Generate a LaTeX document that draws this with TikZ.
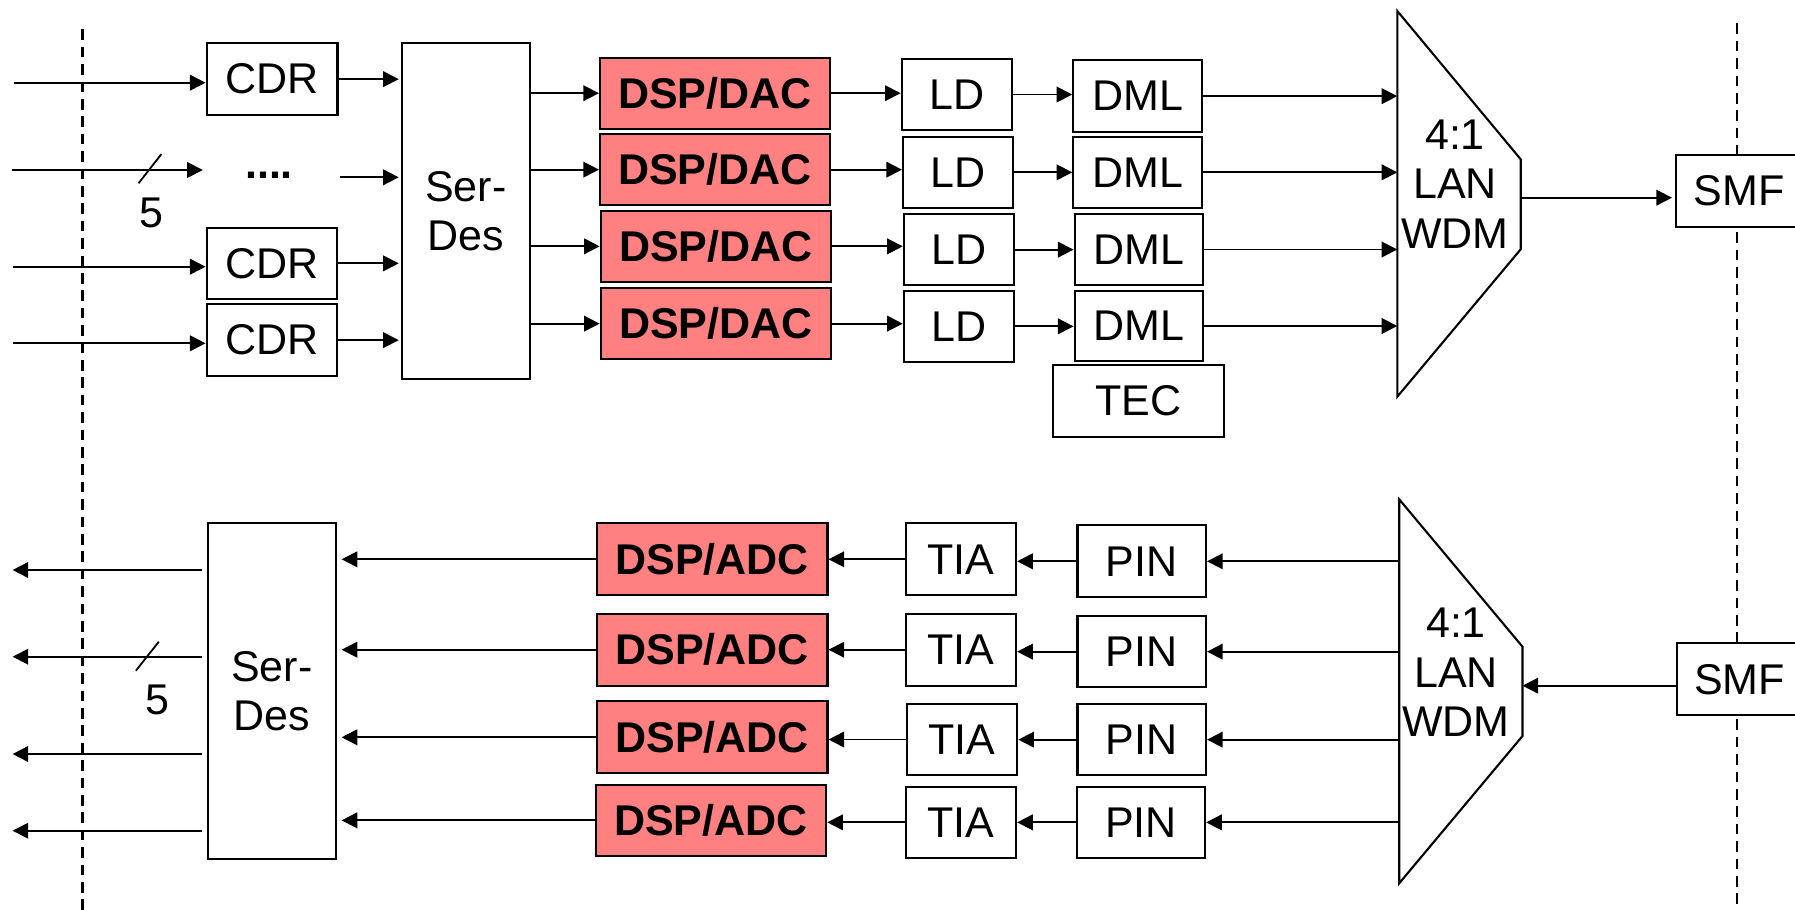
\documentclass[tikz,border=0pt]{standalone}
\usepackage{fontspec}
\setmainfont{Liberation Sans}
\usetikzlibrary{arrows.meta,fit}
\definecolor{dspred}{RGB}{255,128,128}
\begin{document}
\begin{tikzpicture}[x=0.5pt,y=-0.5pt,
  txt/.style={font=\fontsize{21.5pt}{24.7pt}\selectfont,align=center},
  btxt/.style={font=\fontsize{21.5pt}{24.7pt}\selectfont\bfseries},
  blk/.style={draw,line width=1.05pt,fill=white,inner sep=0pt},
  dsp/.style={blk,fill=dspred},
  arr/.style={line width=0.9pt,-{Triangle[length=7.8pt,width=7.8pt]}},
  bound/.style={line width=1.2pt,dash pattern=on 5.3pt off 3.4pt},
  mux/.style={line width=1.05pt,fill=white}]
\useasboundingbox (0,0) rectangle (1795,910);
% boundaries
\draw[bound] (82.3,29.3) -- (82.3,910);
\draw[bound] (1737,23.3) -- (1737,910);

% ---------------- transmitter ----------------
\node[blk,fit={(206.6,43.3)(337.5,115)},label={[txt]center:CDR}] (cdr1) {};
\node[blk,fit={(206.6,227.7)(336.8,299)},label={[txt]center:CDR}] (cdr2) {};
\node[blk,fit={(206.6,304.3)(336.8,376)},label={[txt]center:CDR}] (cdr3) {};
\node[blk,fit={(401.8,43.3)(530,379.3)},label={[txt]center:Ser-\\Des}] (serdes1) {};

\node[dsp,fit={(600,57.7)(830,128.7)},label={[btxt]center:DSP/DAC}] (dac1) {};
\node[dsp,fit={(600,134)(830,205.3)},label={[btxt]center:DSP/DAC}] (dac2) {};
\node[dsp,fit={(600.7,210.7)(831.2,282)},label={[btxt]center:DSP/DAC}] (dac3) {};
\node[dsp,fit={(600.7,288)(831.2,359.3)},label={[btxt]center:DSP/DAC}] (dac4) {};

\node[blk,fit={(901.7,59)(1012.4,130)},label={[txt]center:LD}] (ld1) {};
\node[blk,fit={(903,136.7)(1013.2,208)},label={[txt]center:LD}] (ld2) {};
\node[blk,fit={(903.8,214)(1014,285.3)},label={[txt]center:LD}] (ld3) {};
\node[blk,fit={(903.8,290.7)(1014,362)},label={[txt]center:LD}] (ld4) {};

\node[blk,fit={(1073.3,60.3)(1202.2,132)},label={[txt]center:DML}] (dml1) {};
\node[blk,fit={(1073.3,136.7)(1202.2,208)},label={[txt]center:DML}] (dml2) {};
\node[blk,fit={(1074.6,213.7)(1203,285.3)},label={[txt]center:DML}] (dml3) {};
\node[blk,fit={(1074.6,290.7)(1203,361.3)},label={[txt]center:DML}] (dml4) {};
\node[blk,fit={(1052.6,365.3)(1224.2,436.7)},label={[txt]center:TEC}] (tec) {};

\coordinate (w1a) at (1397.3,11);
\coordinate (w1b) at (1520.7,159.3);
\coordinate (w1c) at (1520.7,249.3);
\coordinate (w1d) at (1397.3,396.7);
\draw[mux] (w1a) -- (w1b) -- (w1c) -- (w1d) -- cycle;
\node[txt] (wdm1) at (1455,184) {4:1\\LAN\\WDM};
\coordinate (w1out) at (1520.7,197.7);

\node[blk,fit={(1676,155)(1802,226.7)}] (smf1) {};
\node[txt] (smf1t) at (1739,190.8) {SMF};

% inputs
\coordinate (i1) at (14,82.7);
\coordinate (i2) at (12.2,170);
\coordinate (e2) at (202.8,170);
\coordinate (i3) at (13,266.7);
\coordinate (i4) at (13,343.3);
\draw[arr] (i1) -- (i1 -| cdr1.west);
\draw[arr] (i2) -- (e2);
\draw[arr] (i3) -- (i3 -| cdr2.west);
\draw[arr] (i4) -- (i4 -| cdr3.west);
\draw[line width=0.9pt] (138.5,183.3) -- (161.5,154);
\node[txt] (five1) at (151,213.3) {5};
\node[btxt,anchor=base,inner sep=0pt] (dots) at (269,178.7) {....};
\coordinate (d2) at (339.8,177.3);

\draw[arr,shorten >=1pt] (cdr1.east) -- (cdr1.east -| serdes1.west);
\draw[arr,shorten >=1pt] (d2) -- (d2 -| serdes1.west);
\draw[arr,shorten >=1pt] (cdr2.east) -- (cdr2.east -| serdes1.west);
\draw[arr,shorten >=1pt] (cdr3.east) -- (cdr3.east -| serdes1.west);

\foreach \k in {1,2,3,4}{
  \draw[arr] (serdes1.east |- dac\k.west) -- (dac\k.west);
  \draw[arr] (dac\k.east) -- (dac\k.east -| ld\k.west);
  \draw[arr] (ld\k.east) -- (ld\k.east -| dml\k.west);
  \draw[arr] (dml\k.east) -- (dml\k.east -| w1a);
}
\draw[arr,shorten >=1.5pt] (w1out) -- (w1out -| smf1.west);

% ---------------- receiver ----------------
\node[blk,fit={(207.8,523.3)(336,859.3)},label={[txt]center:Ser-\\Des}] (serdes2) {};

\node[dsp,fit={(596.6,523.3)(827.5,595.3)},label={[btxt]center:DSP/ADC}] (adc1) {};
\node[dsp,fit={(596.6,613.7)(827.5,685.7)},label={[btxt]center:DSP/ADC}] (adc2) {};
\node[dsp,fit={(596.6,701.3)(827.5,773.3)},label={[btxt]center:DSP/ADC}] (adc3) {};
\node[dsp,fit={(595.8,784.7)(826.2,856)},label={[btxt]center:DSP/ADC}] (adc4) {};

\node[blk,fit={(905.8,523.3)(1016.1,595.3)},label={[txt]center:TIA}] (tia1) {};
\node[blk,fit={(905.8,613.7)(1016.1,685.7)},label={[txt]center:TIA}] (tia2) {};
\node[blk,fit={(906.7,703.7)(1017.3,775.3)},label={[txt]center:TIA}] (tia3) {};
\node[blk,fit={(905.8,786.7)(1016.1,858)},label={[txt]center:TIA}] (tia4) {};

\node[blk,fit={(1077.5,525.3)(1206,597.3)},label={[txt]center:PIN}] (pin1) {};
\node[blk,fit={(1077.5,616)(1206,687.3)},label={[txt]center:PIN}] (pin2) {};
\node[blk,fit={(1077.5,704)(1206,775.3)},label={[txt]center:PIN}] (pin3) {};
\node[blk,fit={(1076.7,786.7)(1205.1,858)},label={[txt]center:PIN}] (pin4) {};

\coordinate (w2a) at (1399.2,499.3);
\coordinate (w2b) at (1522.5,646.7);
\coordinate (w2c) at (1522.5,736);
\coordinate (w2d) at (1399.2,883.3);
\draw[mux] (w2a) -- (w2b) -- (w2c) -- (w2d) -- cycle;
\node[txt] (wdm2) at (1456,672.5) {4:1\\LAN\\WDM};
\coordinate (w2in) at (1522.5,685.7);

\node[blk,fit={(1677.4,643.3)(1802,715)}] (smf2) {};
\node[txt] (smf2t) at (1739.5,679.2) {SMF};
\draw[arr] (w2in -| smf2.west) -- (w2in);

\foreach \k in {1,2,3,4}{
  \draw[arr] (w2a |- pin\k.east) -- (pin\k.east);
  \draw[arr] (pin\k.west) -- (pin\k.west -| tia\k.east);
  \draw[arr] (tia\k.west) -- (tia\k.west -| adc\k.east);
  \draw[arr,shorten >=2.3pt] (adc\k.west) -- (adc\k.west -| serdes2.east);
}

% outputs
\coordinate (o1) at (12.6,570);
\coordinate (o2) at (12.6,656.7);
\coordinate (o3) at (12.6,754);
\coordinate (o4) at (12.6,830.7);
\foreach \k in {1,2,3,4}{
  \draw[arr,shorten <=2.5pt] (o\k -| serdes2.west) -- (o\k);
}
\draw[line width=0.9pt] (135.9,670.7) -- (158.8,641.7);
\node[txt] (five2) at (157,700) {5};
\end{tikzpicture}
\end{document}
